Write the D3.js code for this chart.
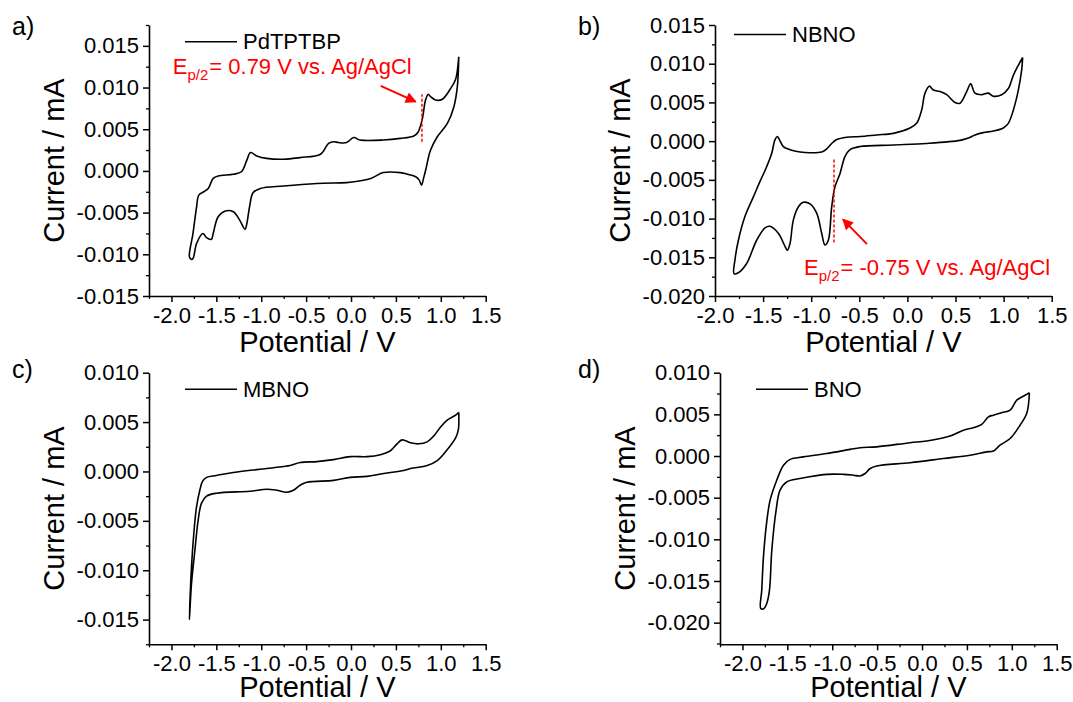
<!DOCTYPE html>
<html>
<head>
<meta charset="utf-8">
<script src="https://cdn.jsdelivr.net/npm/d3@7"></script>
<style>
  body { margin: 0; background: #fff; }
  svg text { font-family: "Liberation Sans", Arial, sans-serif; fill: #000; }
</style>
</head>
<body>
<div id="chart"></div>
<script>
// ---- data (potential / V, current / mA) ----
const potentialTicks = [-2.0, -1.5, -1.0, -0.5, 0.0, 0.5, 1.0, 1.5]

const currentTicksA = [-0.015, -0.010, -0.005, 0.000, 0.005, 0.010, 0.015]
const currentTicksB = [-0.020, -0.015, -0.010, -0.005, 0.000, 0.005, 0.010, 0.015]
const currentTicksC = [-0.015, -0.010, -0.005, 0.000, 0.005, 0.010]
const currentTicksD = [-0.020, -0.015, -0.010, -0.005, 0.000, 0.005, 0.010]

const pdtptbp = [
  [1.20,0.0137],[1.184,0.0101],[1.146,0.0077],[1.073,0.0057],[0.961,0.0041],[0.886,0.0025],
  [0.864,0.0017],[0.84,0.0005],[0.81,-0.0008],[0.785,-0.0017],[0.76,-0.0011],[0.72,-0.0007],
  [0.63,-0.0004],[0.55,-0.0002],[0.36,-0.0002],[0.22,-0.0009],[0.03,-0.0013],[-0.05,-0.0014],
  [-0.38,-0.0015],[-0.75,-0.0018],[-1.01,-0.0021],[-1.09,-0.0026],[-1.13,-0.0043],[-1.16,-0.0063],
  [-1.18,-0.0070],[-1.24,-0.0059],[-1.31,-0.0049],[-1.40,-0.0048],[-1.48,-0.0055],[-1.535,-0.0075],
  [-1.555,-0.0082],[-1.61,-0.0080],[-1.65,-0.0075],[-1.72,-0.0087],[-1.76,-0.0105],[-1.78,-0.0106],
  [-1.80,-0.0103],[-1.76,-0.0075],[-1.72,-0.0043],[-1.695,-0.0029],[-1.64,-0.0025],[-1.59,-0.0021],
  [-1.535,-0.0009],[-1.48,-0.0006],[-1.31,-0.0004],[-1.22,-0.0001],[-1.16,0.0013],[-1.12,0.0022],
  [-1.05,0.0018],[-0.94,0.0015],[-0.75,0.0014],[-0.57,0.0016],[-0.34,0.0020],[-0.25,0.0033],
  [-0.19,0.0035],[-0.14,0.0034],[-0.05,0.0034],[0.03,0.0040],[0.10,0.0037],[0.36,0.0037],
  [0.55,0.0039],[0.70,0.0042],[0.744,0.0046],[0.793,0.0062],[0.83,0.0085],[0.86,0.0092],
  [0.886,0.0089],[0.942,0.0085],[1.017,0.0086],[1.11,0.0099],[1.165,0.0110],[1.20,0.0137]
]

const nbno = [
  [1.198,0.0108],[1.153,0.0098],[1.101,0.0085],[1.049,0.0068],[0.98,0.0060],[0.893,0.0058],
  [0.841,0.0062],[0.772,0.0060],[0.703,0.0062],[0.658,0.0074],[0.616,0.0064],[0.547,0.0049],
  [0.495,0.0050],[0.408,0.0060],[0.339,0.0064],[0.27,0.0066],[0.228,0.0071],[0.183,0.0062],
  [0.148,0.0040],[0.096,0.0023],[0.027,0.0017],[-0.146,0.0010],[-0.319,0.0008],[-0.493,0.0006],
  [-0.631,0.0005],[-0.735,0.0002],[-0.787,-0.0003],[-0.839,-0.0010],[-0.891,-0.0014],[-1.012,-0.0015],
  [-1.116,-0.0014],[-1.22,-0.0011],[-1.29,-0.0007],[-1.331,0.0002],[-1.352,0.0006],[-1.376,0.0002],
  [-1.411,-0.0016],[-1.463,-0.0033],[-1.532,-0.0052],[-1.601,-0.0072],[-1.688,-0.0097],[-1.757,-0.0128],
  [-1.792,-0.0153],[-1.802,-0.0171],[-1.757,-0.0170],[-1.671,-0.0158],[-1.567,-0.0128],[-1.48,-0.0112],
  [-1.428,-0.0110],[-1.342,-0.0119],[-1.272,-0.0136],[-1.248,-0.0141],[-1.22,-0.0132],[-1.186,-0.0102],
  [-1.134,-0.0085],[-1.082,-0.0079],[-1.012,-0.0081],[-0.943,-0.0093],[-0.891,-0.0119],[-0.857,-0.0134],
  [-0.822,-0.0128],[-0.787,-0.0085],[-0.753,-0.0059],[-0.701,-0.0042],[-0.649,-0.0020],[-0.597,-0.0011],
  [-0.493,-0.0007],[-0.146,-0.0005],[0.2,-0.0003],[0.547,0.0001],[0.633,0.0004],[0.703,0.0008],
  [0.789,0.0011],[0.893,0.0013],[0.997,0.0017],[1.049,0.0023],[1.101,0.0040],[1.153,0.0066],
  [1.188,0.0092],[1.198,0.0108]
]

const mbno = [
  [1.2,0.0060],[1.165,0.0057],[1.071,0.0052],[0.997,0.0045],[0.922,0.0036],[0.848,0.0030],
  [0.755,0.0028],[0.662,0.0029],[0.569,0.0032],[0.513,0.0028],[0.439,0.0021],[0.327,0.0017],
  [0.178,0.0015],[-0.008,0.0015],[-0.194,0.0012],[-0.38,0.0010],[-0.567,0.0009],[-0.678,0.0006],
  [-0.753,0.0005],[-0.939,0.0003],[-1.311,-0.0001],[-1.497,-0.0004],[-1.609,-0.0006],[-1.654,-0.0010],
  [-1.684,-0.0019],[-1.721,-0.0036],[-1.751,-0.0063],[-1.777,-0.0097],[-1.795,-0.0134],[-1.80,-0.0150],
  [-1.777,-0.0114],[-1.739,-0.0080],[-1.702,-0.0049],[-1.665,-0.0032],[-1.609,-0.0025],[-1.497,-0.0022],
  [-1.125,-0.0020],[-0.939,-0.0018],[-0.827,-0.0019],[-0.716,-0.0021],[-0.641,-0.0019],[-0.567,-0.0014],
  [-0.492,-0.0011],[-0.194,-0.0009],[-0.008,-0.0006],[0.178,-0.0005],[0.364,-0.0002],[0.588,0.0001],
  [0.662,0.0003],[0.848,0.0006],[0.96,0.0011],[1.071,0.0022],[1.165,0.0034],[1.195,0.0042],[1.2,0.0060]
]

const bno = [
  [1.196,0.0076],[1.148,0.0073],[1.055,0.0067],[0.981,0.0055],[0.888,0.0052],[0.795,0.0049],
  [0.74,0.0047],[0.665,0.0038],[0.572,0.0034],[0.461,0.0031],[0.313,0.0024],[0.053,0.0018],
  [-0.133,0.0016],[-0.504,0.0011],[-0.69,0.0010],[-0.801,0.0008],[-1.061,0.0003],[-1.321,-0.0001],
  [-1.469,-0.0004],[-1.543,-0.0011],[-1.618,-0.0029],[-1.692,-0.0053],[-1.736,-0.0085],[-1.766,-0.0121],
  [-1.785,-0.0161],[-1.796,-0.0183],[-1.759,-0.0183],[-1.729,-0.0177],[-1.699,-0.0161],[-1.673,-0.0113],
  [-1.625,-0.0065],[-1.581,-0.0041],[-1.506,-0.0031],[-1.358,-0.0027],[-1.061,-0.0022],[-0.876,-0.0022],
  [-0.765,-0.0023],[-0.69,-0.0024],[-0.634,-0.0021],[-0.578,-0.0015],[-0.504,-0.0012],[-0.133,-0.0008],
  [0.238,-0.0003],[0.535,0.0001],[0.721,0.0005],[0.795,0.0006],[0.869,0.0013],[0.981,0.0021],
  [1.092,0.0037],[1.166,0.0051],[1.196,0.0076]
]

// half-wave potential markers (dashed line + arrow + text, data units)
const annotA = {e: 0.79, lineY: [0.0035, 0.0092], arrow: [[0.33, 0.0102], [0.72, 0.0083]],
  text: [-1.985, 0.0116], label: "= 0.79 V vs. Ag/AgCl"}
const annotB = {e: -0.763, lineY: [-0.0131, -0.0021], arrow: [[-0.42, -0.0133], [-0.67, -0.0101]],
  text: [-1.075, -0.0173], label: "= -0.75 V vs. Ag/AgCl"}

// ---- layout ----
const width = 1073
const height = 702

const panels = [
  {tag: "a)", name: "PdTPTBP", data: pdtptbp, yTicks: currentTicksA, xDomain: [-2.25, 1.5], yDomain: [-0.015, 0.0175],
   left: 149, right: 485.7, top: 25, bottom: 296, legendDx: 36, legendDy: 16.7, annot: annotA, tagX: 12, tagY: 35, titleDy: 56},
  {tag: "b)", name: "NBNO", data: nbno, yTicks: currentTicksB, xDomain: [-2.0, 1.5], yDomain: [-0.020, 0.015],
   left: 715, right: 1051.7, top: 25, bottom: 296, legendDx: 19, legendDy: 9.5, annot: annotB, tagX: 578, tagY: 35, titleDy: 56},
  {tag: "c)", name: "MBNO", data: mbno, yTicks: currentTicksC, xDomain: [-2.25, 1.5], yDomain: [-0.0175, 0.010],
   left: 149, right: 485.7, top: 372.7, bottom: 644.3, legendDx: 36, legendDy: 16.6, tagX: 12, tagY: 378, titleDy: 53},
  {tag: "d)", name: "BNO", data: bno, yTicks: currentTicksD, xDomain: [-2.25, 1.5], yDomain: [-0.0226, 0.010],
   left: 720, right: 1056.7, top: 372.7, bottom: 644.3, legendDx: 36, legendDy: 16.6, tagX: 578, tagY: 378, titleDy: 53}
]

const svg = d3.select("#chart").append("svg")
    .attr("width", width)
    .attr("height", height)

svg.append("defs").append("marker")
    .attr("id", "arrowhead")
    .attr("viewBox", "0 0 10 10")
    .attr("refX", 9).attr("refY", 5)
    .attr("markerWidth", 12).attr("markerHeight", 11)
    .attr("markerUnits", "userSpaceOnUse")
    .attr("orient", "auto")
  .append("path")
    .attr("d", "M0,0 L10,5 L0,10 Z")
    .attr("fill", "#ff0000")

const red = "#ff0000"

panels.forEach(p => {

    const x = d3.scaleLinear().domain(p.xDomain).range([p.left, p.right])
    const y = d3.scaleLinear().domain(p.yDomain).range([p.bottom, p.top])

    // minor ticks first, then major axis over them
    const xMinor = d3.range(-2.25, 1.5, 0.5).filter(v => v >= p.xDomain[0] - 1e-9)
    const yMinor = d3.range(-0.0225, 0.0176, 0.005).filter(v => v >= p.yDomain[0] - 1e-9 && v <= p.yDomain[1] + 1e-9)

    svg.append("g")
        .attr("transform", "translate(0," + p.bottom + ")")
        .call(d3.axisBottom(x).tickValues(xMinor).tickFormat("").tickSize(3).tickSizeOuter(0))
        .call(g => g.select(".domain").remove())
        .selectAll("line").attr("stroke-width", 1.3)

    svg.append("g")
        .attr("transform", "translate(" + p.left + ",0)")
        .call(d3.axisLeft(y).tickValues(yMinor).tickFormat("").tickSize(3).tickSizeOuter(0))
        .call(g => g.select(".domain").remove())
        .selectAll("line").attr("stroke-width", 1.3)

    const xAxis = svg.append("g")
        .attr("transform", "translate(0," + p.bottom + ")")
        .call(d3.axisBottom(x).tickValues(potentialTicks.filter(v => v >= p.xDomain[0]))
            .tickFormat(d => d.toFixed(1)).tickSize(6).tickPadding(5).tickSizeOuter(0))

    const yAxis = svg.append("g")
        .attr("transform", "translate(" + p.left + ",0)")
        .call(d3.axisLeft(y).tickValues(p.yTicks)
            .tickFormat(d => d.toFixed(3)).tickSize(6).tickPadding(4).tickSizeOuter(0))

    ;[xAxis, yAxis].forEach(g => {
        g.attr("font-family", null).attr("font-size", null)
        g.selectAll("text").style("font-size", "22px")
        g.selectAll("line").attr("stroke-width", 1.5)
        g.select(".domain").attr("stroke-width", 1.6)
    })

    // axis titles
    svg.append("text")
        .attr("x", (p.left + p.right) / 2)
        .attr("y", p.bottom + p.titleDy)
        .attr("text-anchor", "middle")
        .style("font-size", "29px")
        .text("Potential / V")

    svg.append("text")
        .attr("transform", "translate(" + (p.left - 85) + "," + ((p.top + p.bottom) / 2) + ") rotate(-90)")
        .attr("text-anchor", "middle")
        .style("font-size", "29px")
        .text("Current / mA")

    // panel tag
    svg.append("text")
        .attr("x", p.tagX).attr("y", p.tagY)
        .style("font-size", "25px")
        .text(p.tag)

    // CV trace
    const line = d3.line()
        .x(d => x(d[0]))
        .y(d => y(d[1]))
        .curve(d3.curveCatmullRom.alpha(0.5))

    svg.append("path")
        .datum(p.data)
        .attr("d", line)
        .attr("fill", "none")
        .attr("stroke", "#000")
        .attr("stroke-width", 1.6)
        .attr("stroke-linejoin", "round")

    // legend
    const lx = p.left + p.legendDx
    const ly = p.top + p.legendDy
    svg.append("line")
        .attr("x1", lx).attr("x2", lx + 52)
        .attr("y1", ly).attr("y2", ly)
        .attr("stroke", "#000").attr("stroke-width", 1.5)
    svg.append("text")
        .attr("x", lx + 58).attr("y", ly + 7.5)
        .style("font-size", "22px")
        .text(p.name)

    // E p/2 annotation
    if (p.annot) {
        const a = p.annot
        svg.append("line")
            .attr("x1", x(a.e)).attr("x2", x(a.e))
            .attr("y1", y(a.lineY[0])).attr("y2", y(a.lineY[1]))
            .attr("stroke", red).attr("stroke-width", 1.5)
            .attr("stroke-dasharray", "3,2")
        svg.append("line")
            .attr("x1", x(a.arrow[0][0])).attr("y1", y(a.arrow[0][1]))
            .attr("x2", x(a.arrow[1][0])).attr("y2", y(a.arrow[1][1]))
            .attr("stroke", red).attr("stroke-width", 2)
            .attr("marker-end", "url(#arrowhead)")
        const t = svg.append("text")
            .attr("x", x(a.text[0])).attr("y", y(a.text[1]))
            .style("font-size", "22px")
            .style("fill", red)
        t.append("tspan").text("E")
        t.append("tspan").attr("dy", 6).style("font-size", "15px").text("p/2")
        t.append("tspan").attr("dy", -6).attr("dx", 1).text(a.label)
    }
})
</script>
</body>
</html>
